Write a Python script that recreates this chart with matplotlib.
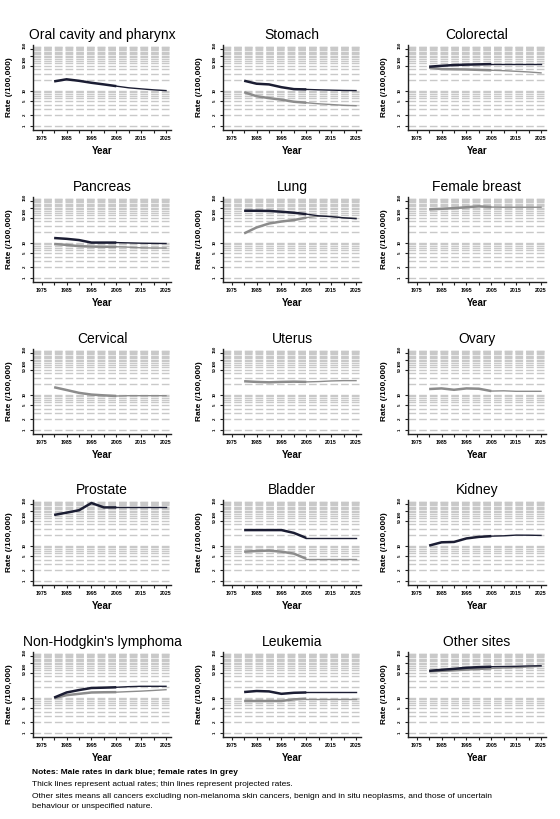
import matplotlib
matplotlib.use("Agg")
import matplotlib.pyplot as plt
from matplotlib.ticker import FixedLocator, NullLocator, NullFormatter

plt.rcParams['font.family'] = ['Liberation Sans', 'DejaVu Sans']

# years of the 5-year points; actual rates up to 2005, projected after
years = [1980, 1985, 1990, 1995, 2000, 2005, 2010, 2015, 2020, 2025]
last_actual = 2005

# rates per 100,000 (m = male, f = female)
oral_m = [18.3, 21, 19, 16.7, 15, 13.4, 12, 11.2, 10.5, 10.0]
stomach_m = [19.1, 15.7, 15.0, 12.5, 11.0, 10.8, 10.5, 10.3, 10.1, 10.0]
stomach_f = [9.0, 6.9, 6.1, 5.5, 4.8, 4.5, 4.2, 4.0, 3.8, 3.7]
colorectal_m = [48, 51, 53.6, 55, 56, 57, 57, 57, 57, 57]
colorectal_f = [45, 41, 40.5, 40, 39, 38, 37, 35.5, 34, 32]
pancreas_m = [13.5, 12.8, 11.8, 10, 10, 10, 9.8, 9.6, 9.5, 9.4]
pancreas_f = [9.1, 8.6, 7.9, 7.7, 7.6, 7.6, 7.4, 7.1, 7.0, 7.0]
lung_m = [81, 81, 80, 76, 71, 65, 58, 55, 51, 48]
lung_f = [18.3, 27, 35, 40, 44, 51.6, 56.7, 56, 50.5, 50]
breast_f = [89, 92, 96, 102, 108, 103, 102, 102, 102, 102]
cervix_f = [16.2, 13.5, 11.2, 10, 9.5, 9.1, 9.3, 9.3, 9.3, 9.3]
uterus_f = [24, 23, 22.4, 23, 23.4, 23, 23.5, 24.5, 25, 25]
ovary_f = [14.4, 15, 13.7, 15, 14.7, 12.6, 12.8, 12.4, 12.4, 12.4]
prostate_m = [75, 87, 102, 164, 123, 123, 123, 123, 123, 123]
bladder_m = [27.7, 27.7, 27.7, 27.7, 23, 16.5, 16.5, 16.5, 16.5, 16.5]
bladder_f = [6.7, 7.0, 7.2, 6.7, 5.9, 4.2, 4.2, 4.2, 4.2, 4.2]
kidney_m = [10, 12.4, 12.7, 16, 17.7, 18.6, 19, 19.9, 19.8, 19.5]
nhl_m = [10, 14, 16.4, 18.8, 19.2, 19.7, 20.5, 21, 21, 21]
nhl_f = [9.6, 11.7, 12.8, 14, 14.2, 14.3, 14.8, 15.3, 16, 16.8]
leuk_m = [14.4, 15.4, 15, 12.8, 13.7, 14, 14, 14, 14, 14]
leuk_f = [8.0, 8.0, 8.0, 8.0, 8.9, 9.3, 9.3, 9.3, 9.3, 9.3]
other_m = [58, 62, 66, 71, 74, 76, 77, 78, 80, 81]
other_f = [56, 58, 60, 63, 66, 68, 70, 72, 75, 78]

titles = ["Oral cavity and pharynx", "Stomach", "Colorectal",
          "Pancreas", "Lung", "Female breast",
          "Cervical", "Uterus", "Ovary",
          "Prostate", "Bladder", "Kidney",
          "Non-Hodgkin's lymphoma", "Leukemia", "Other sites"]
male = [oral_m, stomach_m, colorectal_m, pancreas_m, lung_m, None,
        None, None, None, prostate_m, bladder_m, kidney_m,
        nhl_m, leuk_m, other_m]
female = [None, stomach_f, colorectal_f, pancreas_f, lung_f, breast_f,
          cervix_f, uterus_f, ovary_f, None, bladder_f, None,
          nhl_f, leuk_f, other_f]

ytick_vals = [1, 2, 5, 10, 50, 100, 150]
grid_vals = list(range(1, 10)) + list(range(10, 190, 10))
xmajor = [1975, 1985, 1995, 2005, 2015, 2025]
xminor = [1980, 1990, 2000, 2010, 2020]

MALE = "#1b1d33"
FEMALE = "#8c8c8c"

W, H = 560, 819
fig = plt.figure(figsize=(W / 100, H / 100), dpi=100)

lefts = [33, 223, 408]
tops = [45, 197, 349, 500, 652]
aw, ah = 138, 85


def draw_series(ax, vals, color):
    k = years.index(last_actual)
    ax.plot(years[:k + 1], vals[:k + 1], color=color, lw=1.8,
            solid_capstyle='butt', zorder=3)
    ax.plot(years[k:], vals[k:], color=color, lw=1.0, zorder=3)


for i, title in enumerate(titles):
    r, c = divmod(i, 3)
    ax = fig.add_axes([lefts[c] / W, 1 - (tops[r] + ah) / H, aw / W, ah / H])
    ax.set_yscale('log')
    ax.set_ylim(0.75, 200)
    ax.set_xlim(1971.5, 2027)

    for g in grid_vals:
        ax.axhline(g, color="#c9c9c9", lw=1.0, dashes=(5.5, 2.2), zorder=1)

    # female first so the male line sits on top
    if female[i] is not None:
        draw_series(ax, female[i], FEMALE)
    if male[i] is not None:
        draw_series(ax, male[i], MALE)

    ax.yaxis.set_major_locator(FixedLocator(ytick_vals))
    ax.yaxis.set_minor_locator(NullLocator())
    ax.yaxis.set_minor_formatter(NullFormatter())
    ax.set_yticklabels([str(v) for v in ytick_vals], rotation=90,
                       va='center', fontsize=3.2, fontweight='bold')
    # 100 and 150 sit close together on the log axis: push them apart
    ylabs = ax.get_yticklabels()
    ylabs[5].set_va('top')
    ylabs[6].set_va('bottom')
    ax.xaxis.set_major_locator(FixedLocator(xmajor))
    ax.xaxis.set_minor_locator(FixedLocator(xminor))
    ax.set_xticklabels([str(v) for v in xmajor], fontsize=3.8,
                       fontweight='bold')
    ax.tick_params(axis='both', which='both', length=2.2, width=0.8,
                   pad=2.0, color="#222222")

    for s in ['top', 'right']:
        ax.spines[s].set_visible(False)
    for s in ['left', 'bottom']:
        ax.spines[s].set_linewidth(1.0)
        ax.spines[s].set_color("#222222")

    ax.set_xlabel("Year", fontsize=7, fontweight='bold')
    ax.xaxis.set_label_coords(0.5, -0.19)
    ax.set_ylabel("Rate (/100,000)", fontsize=6, fontweight='bold')
    ax.yaxis.set_label_coords(-0.145, 0.5)
    ax.text(0.5, 1 + 10 / ah, title, transform=ax.transAxes,
            ha='center', va='center', fontsize=10)

notes = [
    ("Notes: Male rates in dark blue; female rates in grey", 'bold'),
    ("Thick lines represent actual rates; thin lines represent projected rates.", 'normal'),
    ("Other sites means all cancers excluding non-melanoma skin cancers, benign and in situ neoplasms, and those of uncertain", 'normal'),
    ("behaviour or unspecified nature.", 'normal'),
]
note_y = [773, 785, 796, 806]
for (txt, wt), y in zip(notes, note_y):
    fig.text(32 / W, 1 - y / H, txt, fontsize=6.0, fontweight=wt,
             ha='left', va='center')

fig.savefig("out.png", dpi=100, facecolor='white')
